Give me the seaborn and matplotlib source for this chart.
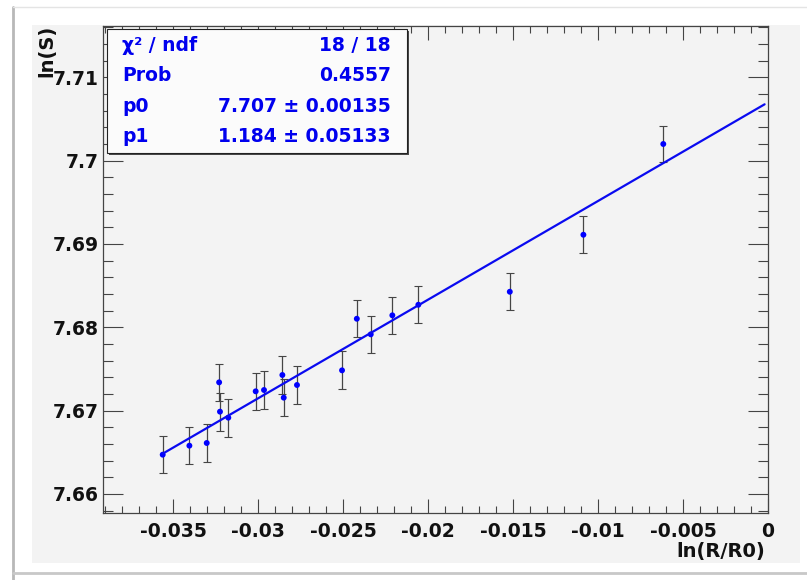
import matplotlib
matplotlib.use("Agg")
import matplotlib.pyplot as plt
import seaborn as sns
import pandas as pd
from matplotlib.patches import Rectangle
from matplotlib.lines import Line2D
from matplotlib.ticker import MultipleLocator

# ---------------- data ----------------
ln_r = [-0.03561, -0.03404, -0.03302, -0.03229, -0.03224, -0.03175, -0.03014,
        -0.02965, -0.02857, -0.02849, -0.02771, -0.02506, -0.02419, -0.02337,
        -0.02210, -0.02057, -0.01519, -0.01086, -0.00616]
ln_s = [7.66472, 7.66580, 7.66612, 7.67340, 7.66988, 7.66916, 7.67232,
        7.67248, 7.67428, 7.67156, 7.67308, 7.67484, 7.68103, 7.67916,
        7.68144, 7.68271, 7.68427, 7.69111, 7.70200]
ln_s_err = [0.00226, 0.00224, 0.00228, 0.00220, 0.00228, 0.00228, 0.00226,
            0.00228, 0.00224, 0.00222, 0.00224, 0.00228, 0.00224, 0.00224,
            0.00224, 0.00222, 0.00224, 0.00220, 0.00220]

fit_p0 = 7.707
fit_p1 = 1.184
fit_x = [-0.0356, -0.0002]

stat_names = ["\u03c7\u00b2 / ndf", "Prob", "p0", "p1"]
stat_values = ["18 / 18", "0.4557", "7.707 \u00b1 0.00135", "1.184 \u00b1 0.05133"]

x_ticks = [-0.035, -0.03, -0.025, -0.02, -0.015, -0.01, -0.005, 0]
x_tick_labels = ["-0.035", "-0.03", "-0.025", "-0.02", "-0.015", "-0.01", "-0.005", "0"]
y_ticks = [7.66, 7.67, 7.68, 7.69, 7.70, 7.71]
y_tick_labels = ["7.66", "7.67", "7.68", "7.69", "7.7", "7.71"]

x_label = "ln(R/R0)"
y_label = "ln(S)"

# ---------------- style ----------------
sns.set_style("ticks")
plt.rcParams["font.family"] = ["DejaVu Sans"]
plt.rcParams["font.weight"] = "bold"
plt.rcParams["axes.unicode_minus"] = False

W, H = 807, 580
fig = plt.figure(figsize=(W / 100, H / 100), dpi=100)
fig.patch.set_facecolor("white")

def fx(px):
    return px / W

def fy(py):
    return 1 - py / H

pad_color = "#f3f3f3"
# canvas pad
fig.patches.append(Rectangle((fx(32), fy(563)), fx(800) - fx(32), fy(25) - fy(563),
                             transform=fig.transFigure, facecolor=pad_color,
                             edgecolor="none", zorder=-2))
# outer window border
fig.lines.append(Line2D([fx(13), fx(13)], [0, fy(7)], transform=fig.transFigure,
                        color="#b8b8b8", lw=2.0, zorder=-1))
fig.lines.append(Line2D([fx(13), 1], [fy(7), fy(7)], transform=fig.transFigure,
                        color="#e4e4e4", lw=1.0, zorder=-1))
fig.lines.append(Line2D([fx(13), 1], [fy(573), fy(573)], transform=fig.transFigure,
                        color="#c8c8c8", lw=2.0, zorder=-1))

ax = fig.add_axes([fx(102.7), fy(513), fx(768) - fx(102.7), fy(26) - fy(513)])
ax.set_zorder(1)
ax.set_facecolor(pad_color)

df = pd.DataFrame({"x": ln_r, "y": ln_s, "err": ln_s_err})
fit_df = pd.DataFrame({"x": fit_x, "y": [fit_p0 + fit_p1 * v for v in fit_x]})

ax.errorbar(df["x"], df["y"], yerr=df["err"], fmt="none", ecolor="#454545",
            elinewidth=0.9, capsize=3.0, capthick=0.8, zorder=2)
sns.scatterplot(data=df, x="x", y="y", ax=ax, color="#0000ff", s=18,
                edgecolor="none", linewidth=0, zorder=3, legend=False)
sns.lineplot(data=fit_df, x="x", y="y", ax=ax, color="#0a0af0", lw=1.6,
             zorder=4, legend=False)

ax.set_xlim(-0.03914, 0.0)
ax.set_ylim(7.65772, 7.71616)

ax.set_xticks(x_ticks)
ax.set_xticklabels(x_tick_labels)
ax.set_yticks(y_ticks)
ax.set_yticklabels(y_tick_labels)
ax.xaxis.set_minor_locator(MultipleLocator(0.001))
ax.yaxis.set_minor_locator(MultipleLocator(0.002))

tick_col = "#444444"
ax.tick_params(which="both", direction="in", top=True, right=True, color=tick_col,
               labelcolor="#111111")
ax.tick_params(axis="x", which="major", length=10, width=0.8, pad=6.5, labelsize=13.5)
ax.tick_params(axis="x", which="minor", length=5, width=0.8)
ax.tick_params(axis="y", which="major", length=14.4, width=0.8, pad=2.7, labelsize=13.5)
ax.tick_params(axis="y", which="minor", length=7, width=0.8)
for sp in ax.spines.values():
    sp.set_visible(True)
    sp.set_color(tick_col)
    sp.set_linewidth(0.9)

ax.set_xlabel(x_label, fontsize=14, fontweight="bold", color="#111111")
ax.xaxis.set_label_coords(0.9955, -0.08)
ax.xaxis.label.set_ha("right")
ax.xaxis.label.set_va("center")

ax.set_ylabel(y_label, fontsize=14, fontweight="bold", color="#111111")
ax.yaxis.set_label_coords(-0.0837, 1.002)
ax.yaxis.label.set_ha("right")
ax.yaxis.label.set_va("center")

# ---------------- stats box ----------------
bx0, by0, bx1, by1 = 107, 29, 407, 153
fig.patches.append(Rectangle((fx(bx0 + 2), fy(by1 + 2)), fx(bx1) - fx(bx0), fy(by0) - fy(by1),
                             transform=fig.transFigure, facecolor="#4a4a4a",
                             edgecolor="none", zorder=5))
fig.patches.append(Rectangle((fx(bx0), fy(by1)), fx(bx1) - fx(bx0), fy(by0) - fy(by1),
                             transform=fig.transFigure, facecolor="#fbfbfb",
                             edgecolor="#222222", lw=0.8, zorder=6))
baselines = [50.7, 80.7, 111.7, 141.7]
for name, val, b in zip(stat_names, stat_values, baselines):
    fig.text(fx(122), fy(b), name, ha="left", va="baseline", fontsize=13.5,
             fontweight="bold", color="#0000ee", zorder=7)
    fig.text(fx(391), fy(b), val, ha="right", va="baseline", fontsize=13.5,
             fontweight="bold", color="#0000ee", zorder=7)

fig.savefig("out.png", dpi=100)
